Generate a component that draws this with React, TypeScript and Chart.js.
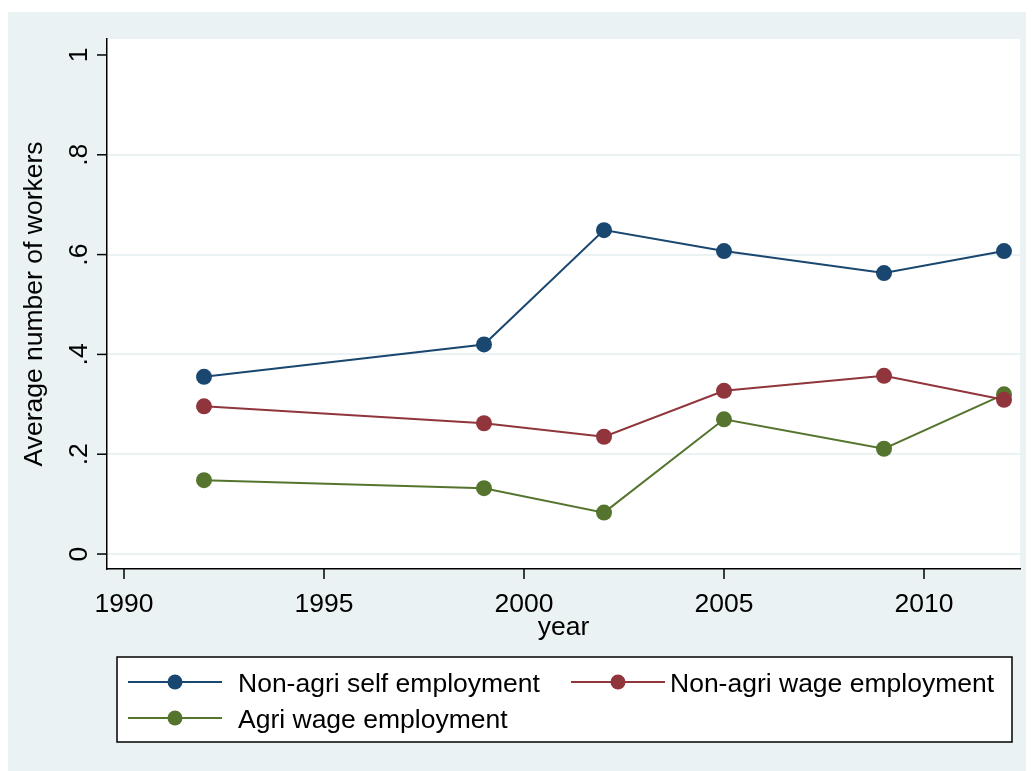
import React, { useEffect, useRef } from 'react';
import { Chart, registerables } from 'chart.js';

Chart.register(...registerables);

// survey years and average number of workers per household
const years = [1992, 1999, 2002, 2005, 2009, 2012];
const nonAgriSelf = [0.355, 0.42, 0.649, 0.607, 0.563, 0.607];
const nonAgriWage = [0.296, 0.262, 0.235, 0.327, 0.357, 0.309];
const agriWage = [0.148, 0.132, 0.083, 0.27, 0.211, 0.32];

const seriesNames = ['Non-agri self employment', 'Non-agri wage employment', 'Agri wage employment'];
const seriesColors = ['#1A476F', '#90353B', '#55752F'];

const xTicks = [1990, 1995, 2000, 2005, 2010];
const yTicks = [0, 0.2, 0.4, 0.6, 0.8, 1];
const yTickLabels = ['0', '.2', '.4', '.6', '.8', '1'];

const BG = '#EAF2F3';
const FONT = '"Liberation Sans", Arial, sans-serif';

const stataLook = {
  id: 'stataLook',
  beforeDraw(chart: any) {
    const { ctx, chartArea: a, width, height } = chart;
    ctx.save();
    ctx.fillStyle = BG;
    ctx.fillRect(0, 4, width, height - 4);
    ctx.fillStyle = '#fff';
    ctx.fillRect(a.left, a.top, a.right - a.left, a.bottom - a.top);
    ctx.restore();
  },
  afterDraw(chart: any) {
    const { ctx, chartArea: a } = chart;
    const xs = chart.scales.x;
    const ys = chart.scales.y;
    ctx.save();
    ctx.fillStyle = '#000';
    ctx.strokeStyle = '#000';
    ctx.lineWidth = 1.5;
    ctx.font = `26.5px ${FONT}`;

    // x ticks + labels
    ctx.textAlign = 'center';
    ctx.textBaseline = 'alphabetic';
    xTicks.forEach((v) => {
      const px = xs.getPixelForValue(v);
      ctx.beginPath();
      ctx.moveTo(px, a.bottom);
      ctx.lineTo(px, a.bottom + 10);
      ctx.stroke();
      ctx.fillText(String(v), px, 604);
    });
    ctx.fillText('year', (a.left + a.right) / 2, 627);

    // y ticks + rotated labels
    yTicks.forEach((v, i) => {
      const py = ys.getPixelForValue(v);
      ctx.beginPath();
      ctx.moveTo(a.left - 10, py);
      ctx.lineTo(a.left, py);
      ctx.stroke();
      ctx.save();
      ctx.translate(79, py);
      ctx.rotate(-Math.PI / 2);
      ctx.fillText(yTickLabels[i], 0, 0);
      ctx.restore();
    });
    ctx.save();
    ctx.translate(34, (a.top + a.bottom) / 2);
    ctx.rotate(-Math.PI / 2);
    ctx.fillText('Average number of workers', 0, 0);
    ctx.restore();

    // legend box
    ctx.fillStyle = '#fff';
    ctx.fillRect(109, 649, 895, 85);
    ctx.strokeRect(109, 649, 895, 85);
    const slots = [
      { x: 120, y: 674 },
      { x: 563, y: 674 },
      { x: 120, y: 710 },
    ];
    chart.data.datasets.forEach((ds: any, i: number) => {
      const s = slots[i];
      ctx.strokeStyle = ds.borderColor;
      ctx.lineWidth = 2;
      ctx.beginPath();
      ctx.moveTo(s.x, s.y);
      ctx.lineTo(s.x + 94, s.y);
      ctx.stroke();
      ctx.fillStyle = ds.borderColor;
      ctx.beginPath();
      ctx.arc(s.x + 47, s.y, 7.5, 0, Math.PI * 2);
      ctx.fill();
      ctx.fillStyle = '#000';
      ctx.textAlign = 'left';
      ctx.fillText(ds.label, s.x + (i === 1 ? 99 : 110), s.y + 10);
    });
    ctx.restore();
  },
};

const App: React.FC = () => {
  const chartRef = useRef<HTMLCanvasElement>(null);

  useEffect(() => {
    if (!chartRef.current) return;
    const series = [nonAgriSelf, nonAgriWage, agriWage];
    const myChart = new Chart(chartRef.current, {
      type: 'line',
      data: {
        datasets: series.map((vals, i) => ({
          label: seriesNames[i],
          data: years.map((yr, j) => ({ x: yr, y: vals[j] })),
          borderColor: seriesColors[i],
          backgroundColor: seriesColors[i],
          pointBackgroundColor: seriesColors[i],
          pointBorderWidth: 0,
          pointRadius: 8,
          borderWidth: 2,
          tension: 0,
          fill: false,
        })),
      },
      options: {
        animation: false,
        responsive: true,
        maintainAspectRatio: false,
        layout: { padding: { left: 0, top: 31, right: 14, bottom: 0 } },
        scales: {
          x: {
            type: 'linear',
            min: 1989.575,
            max: 2012.4,
            afterBuildTicks: (s: any) => {
              s.ticks = xTicks.map((v) => ({ value: v }));
            },
            afterFit: (s: any) => {
              s.height = 202;
            },
            ticks: { display: false },
            grid: { display: false },
            border: { display: true, color: '#000', width: 1.5 },
          },
          y: {
            min: -0.03,
            max: 1.032,
            afterBuildTicks: (s: any) => {
              s.ticks = yTicks.map((v) => ({ value: v }));
            },
            afterFit: (s: any) => {
              s.width = 99;
            },
            ticks: { display: false },
            grid: {
              drawTicks: false,
              lineWidth: 2,
              color: (c: any) => (c.tick && c.tick.value === 1 ? 'rgba(0,0,0,0)' : BG),
            },
            border: { display: true, color: '#000', width: 1.5 },
          },
        },
        plugins: {
          legend: { display: false },
          tooltip: { enabled: false },
        },
      },
      plugins: [stataLook],
    });

    return () => {
      myChart.destroy();
    };
  }, []);

  return (
    <div style={{ width: 1026, height: 763, position: 'relative' }}>
      <canvas ref={chartRef} />
    </div>
  );
};

export default App;
